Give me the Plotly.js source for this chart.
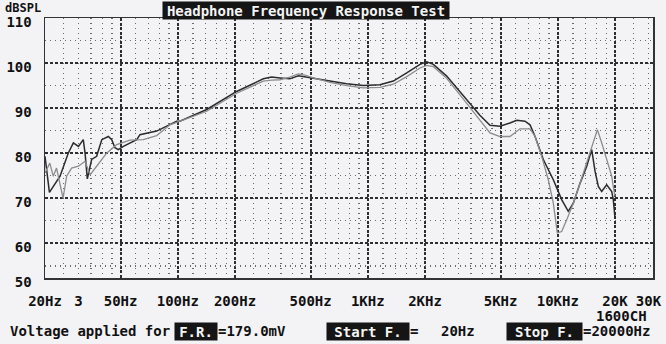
<!DOCTYPE html>
<html>
<head>
<meta charset="utf-8">
<script src="https://cdn.plot.ly/plotly-3.0.1.min.js"></script>
<style>
  html, body { margin: 0; padding: 0; background: #f3f3f6; }
  #chart { width: 666px; height: 344px; }
</style>
</head>
<body>
<div id="chart"></div>
<script>
// ---- data ----
const darkFreq = [20.0, 21.1, 24.0, 26.5, 28.2, 30.0, 31.8, 32.5, 33.4, 35.2, 37.4, 39.8, 43.1, 44.9, 46.7, 48.6, 51.7, 56.0, 60.8, 63.2, 77.4, 98.6, 102.6, 142, 204, 282, 312, 345, 389, 431, 517, 632, 774, 947, 1159, 1362, 1603, 1883, 2042, 2213, 2601, 3184, 3890, 4396, 4965, 5600, 6080, 6720, 7140, 7590, 8390, 9470, 10480, 11350, 12070, 13090, 14200, 15080, 15700, 16340, 17020, 18080, 19220, 19590, 20000];
const darkDb = [79.3, 71.3, 74.9, 80.0, 82.3, 81.5, 83.0, 80.0, 74.3, 78.6, 79.3, 83.0, 83.7, 83.0, 81.2, 80.8, 81.5, 82.3, 83.0, 84.1, 84.9, 87.1, 87.1, 89.7, 93.7, 96.5, 96.9, 96.7, 96.5, 97.2, 96.7, 96.0, 95.4, 95.0, 95.2, 96.0, 97.8, 99.7, 100.3, 99.7, 97.1, 92.6, 88.4, 86.2, 86.0, 86.7, 87.3, 87.1, 86.3, 83.7, 78.6, 74.1, 69.7, 67.1, 68.9, 73.3, 77.1, 80.8, 76.0, 72.6, 71.5, 73.0, 71.5, 69.7, 65.6];

const grayFreq = [20.0, 21.2, 22.1, 23.0, 24.9, 26.0, 27.6, 30.0, 32.5, 34.5, 37.4, 42.2, 47.7, 56.0, 65.8, 77.4, 91.0, 116, 142, 204, 282, 312, 345, 389, 431, 467, 517, 632, 774, 947, 1159, 1362, 1603, 1883, 2042, 2213, 2601, 3184, 3890, 4396, 4965, 5600, 6325, 7140, 7590, 8225, 8910, 9470, 9940, 10480, 11140, 12070, 13090, 14770, 16150, 17020, 18080, 19220, 19590, 20000];
const grayDb = [75.6, 77.8, 74.9, 76.7, 70.0, 74.9, 76.7, 77.1, 78.2, 75.2, 77.1, 80.0, 81.9, 82.9, 83.0, 83.9, 86.3, 88.0, 89.3, 93.3, 96.0, 96.2, 96.3, 96.9, 97.6, 97.3, 96.7, 95.7, 95.0, 94.5, 94.6, 95.3, 97.0, 98.9, 99.5, 99.2, 96.6, 92.0, 87.3, 84.5, 83.7, 83.7, 85.4, 85.4, 83.7, 79.3, 74.1, 68.9, 62.3, 62.6, 65.2, 68.9, 73.3, 80.0, 85.2, 82.3, 78.6, 74.9, 72.6, 70.4];

const xTickVals = [20, 30, 50, 100, 200, 500, 1000, 2000, 5000, 10000, 20000, 30000];
const xTickText = ['20Hz', '3', '50Hz', '100Hz', '200Hz', '500Hz', '1KHz', '2KHz', '5KHz', '10KHz', '20K', '30K'];
const xMajorGrid = [50, 100, 200, 500, 1000, 2000, 5000, 10000, 20000];
const xMinorGrid = [25, 30, 35, 40, 45, 60, 70, 80, 90, 120, 140, 160, 180, 250, 300, 350, 400, 450, 600, 700, 800, 900, 1200, 1400, 1600, 1800, 2500, 3000, 3500, 4000, 4500, 6000, 7000, 8000, 9000, 12000, 14000, 16000, 18000, 25000, 30000];

const yBottom = 52.3;
const yTickVals = [yBottom, 60, 70, 80, 90, 100, 110];
const yTickText = ['50', '60', '70', '80', '90', '100', '110'];
const yMinorGrid = [55, 65, 75, 85, 95, 105];

// ---- layout helpers (pixel -> paper) ----
const M = { l: 45, r: 13, t: 18, b: 66 };
const W = 666, H = 344;
const PW = W - M.l - M.r, PH = H - M.t - M.b;
const px = v => (v - M.l) / PW;
const py = v => (H - M.b - v) / PH;

const mono = 'DejaVu Sans Mono, Liberation Mono, monospace';
const txt = { family: mono, size: 14, color: '#111', weight: 'bold' };
const inv = { family: mono, size: 14, color: '#f4f4f4', weight: 'bold' };

function label(text, x, y, anchor, font) {
  return { text: text, xref: 'paper', yref: 'paper', x: px(x), y: py(y),
    xanchor: anchor, yanchor: 'middle', showarrow: false, font: font, borderpad: 0 };
}
function box(text, x, y, w, h) {
  return { text: text, xref: 'paper', yref: 'paper', x: px(x), y: py(y),
    xanchor: 'left', yanchor: 'middle', showarrow: false, font: inv,
    bgcolor: '#151515', width: w, height: h, align: 'center', valign: 'middle', borderpad: 0 };
}

const traces = [
  { x: grayFreq, y: grayDb, type: 'scatter', mode: 'lines', xaxis: 'x2', yaxis: 'y',
    line: { color: '#8c8c8c', width: 1.3 }, hoverinfo: 'skip' },
  { x: darkFreq, y: darkDb, type: 'scatter', mode: 'lines', xaxis: 'x', yaxis: 'y',
    line: { color: '#2b2b2b', width: 1.5 }, hoverinfo: 'skip' }
];

const xr = [Math.log10(20), Math.log10(20) + 3.2];

const layout = {
  width: W, height: H,
  margin: M,
  paper_bgcolor: '#f3f3f6',
  plot_bgcolor: '#f3f3f6',
  showlegend: false,
  xaxis: {
    type: 'log', range: xr, tickmode: 'array', tickvals: xTickVals, ticktext: xTickText,
    showgrid: false, zeroline: false, ticks: '', tickfont: txt, ticklabelstandoff: 10,
    showline: true, linecolor: '#333', linewidth: 1.5, mirror: true,
    minor: { tickmode: 'array', tickvals: xMajorGrid, showgrid: true, gridcolor: '#2e2e2e',
             gridwidth: 1.8, griddash: '3px,1.5px', ticks: '' }
  },
  xaxis2: {
    type: 'log', range: xr, overlaying: 'x', anchor: 'y', tickmode: 'array', tickvals: xMinorGrid,
    showticklabels: false, ticks: '', showgrid: true, gridcolor: '#6a6a6a', gridwidth: 1.4,
    griddash: '1.4px,3.6px', zeroline: false, showline: false
  },
  yaxis: {
    range: [yBottom, 110], tickmode: 'array', tickvals: yTickVals, ticktext: yTickText,
    showgrid: true, gridcolor: '#2e2e2e', gridwidth: 1.7, griddash: '3px,2px',
    zeroline: false, ticks: '', tickfont: txt, ticklabelstandoff: 9, ticklabelshift: 4,
    showline: true, linecolor: '#333', linewidth: 1.5, mirror: true,
    minor: { tickmode: 'array', tickvals: yMinorGrid, showgrid: true, gridcolor: '#6a6a6a',
             gridwidth: 1.4, griddash: '1.4px,3.6px', ticks: '' }
  },
  annotations: [
    label('dBSPL', 4, 8, 'left', { family: mono, size: 12, color: '#111', weight: 'bold' }),
    box('Headphone Frequency Response Test', 162, 10, 286, 17),
    label('1600CH', 648, 316, 'right', txt),
    label('Voltage applied for', 9, 331, 'left', txt),
    box('F.R.', 174, 331, 42, 17),
    label('=179.0mV', 217, 331, 'left', txt),
    box('Start F.', 326, 331, 82, 17),
    label('=', 409, 331, 'left', txt),
    label('20Hz', 440, 331, 'left', txt),
    box('Stop F.', 506, 331, 75, 17),
    label('=20000Hz', 582, 331, 'left', txt)
  ]
};

Plotly.newPlot('chart', traces, layout, { staticPlot: true, displayModeBar: false });
</script>
</body>
</html>
